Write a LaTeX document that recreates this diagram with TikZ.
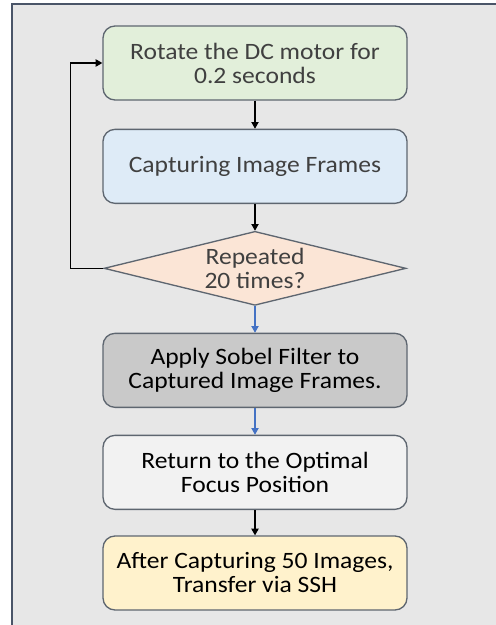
\documentclass[tikz,border=0pt]{standalone}
\usepackage{fontspec}
\setmainfont{Carlito}[FakeStretch=1.09]
\usepackage{xcolor}
\usepackage{tikz}
\usetikzlibrary{shapes,arrows,positioning,calc,arrows.meta}

\definecolor{bgGray}{HTML}{E7E7E7}
\definecolor{frameBlue}{HTML}{4A5568}
\definecolor{edgeGray}{HTML}{5E6670}
\definecolor{txtGray}{HTML}{404040}
\definecolor{rotGreen}{HTML}{E2EFDA}
\definecolor{capBlue}{HTML}{DEEBF7}
\definecolor{decPeach}{HTML}{FBE5D6}
\definecolor{sobGray}{HTML}{C9C9C9}
\definecolor{retWhite}{HTML}{F2F2F2}
\definecolor{sshYellow}{HTML}{FFF2CC}
\definecolor{arrBlue}{HTML}{4472C4}

\begin{document}
\begin{tikzpicture}[
    font=\fontsize{17.6pt}{18pt}\selectfont,
    node distance=20pt,
    stepbox/.style={draw=edgeGray, line width=1pt, rounded corners=9pt,
        minimum width=228pt, minimum height=55.5pt, align=center, inner sep=0pt},
    decbox/.style={draw=edgeGray, line width=1pt, diamond, aspect=4.1,
        minimum width=226.5pt, minimum height=55.5pt, align=center, inner sep=0pt},
    flow/.style={-{Triangle[length=5pt,width=5.5pt]}, line width=0.8pt},
]
    \clip (0,0) rectangle (372pt,-468.75pt);
    \draw[fill=bgGray, draw=frameBlue, line width=1.5pt] (9pt,-3pt) rectangle (390pt,-490pt);

    \node[stepbox, fill=rotGreen, text=txtGray] (rot) at (191.25pt,-47.25pt) {Rotate the DC motor for\\0.2 seconds};
    \node[stepbox, fill=capBlue, text=txtGray, below=21pt of rot] (cap) {Capturing Image Frames};
    \node[decbox, fill=decPeach, text=txtGray, below=of cap] (dec) {Repeated\\20 times?};
    \node[stepbox, fill=sobGray, below=of dec] (sob) {Apply Sobel Filter to\\Captured Image Frames.};
    \node[stepbox, fill=retWhite, below=of sob] (ret) {Return to the Optimal\\Focus Position};
    \node[stepbox, fill=sshYellow, below=19pt of ret] (ssh) {After Capturing 50 Images,\\Transfer via SSH};

    \draw[flow] (rot) -- (cap);
    \draw[flow] (cap) -- (dec);
    \draw[flow, arrBlue] (dec) -- (sob);
    \draw[flow, arrBlue] (sob) -- (ret);
    \draw[flow] (ret) -- (ssh);
    \draw[flow] (dec.west) -- ++(-24.75pt,0) |- (rot.west);
\end{tikzpicture}
\end{document}
